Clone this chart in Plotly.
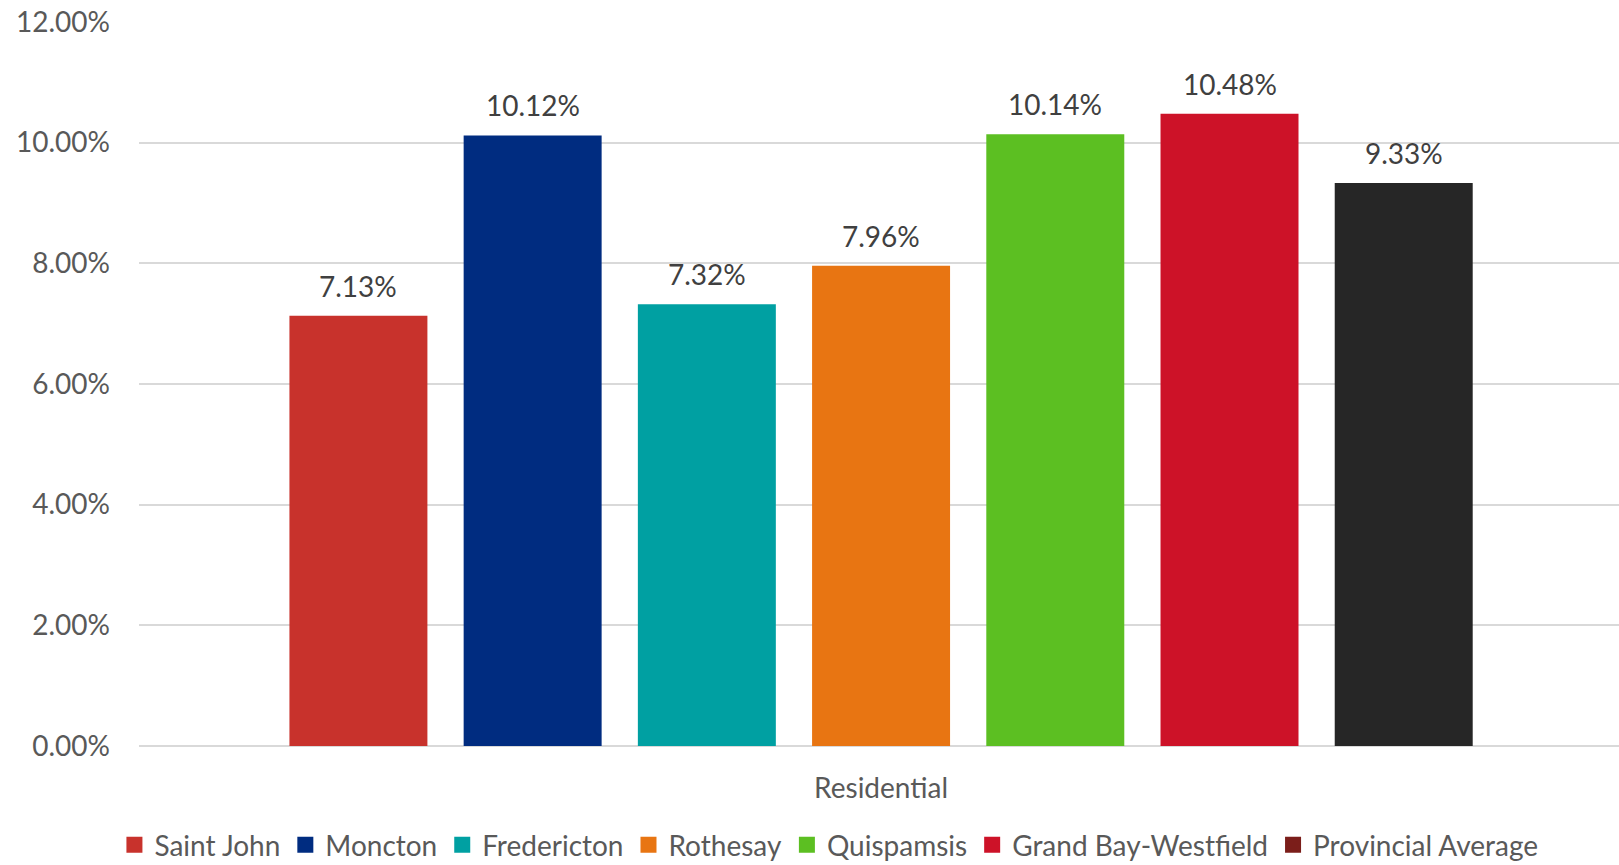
import plotly.graph_objects as go

# Residential rate by municipality
category = "Residential"
municipalities = [
    "Saint John",
    "Moncton",
    "Fredericton",
    "Rothesay",
    "Quispamsis",
    "Grand Bay-Westfield",
    "Provincial Average",
]
rates = [0.0713, 0.1012, 0.0732, 0.0796, 0.1014, 0.1048, 0.0933]
bar_colors = ["#C8322C", "#002C80", "#00A0A2", "#E87512", "#5CBF22", "#CD1228", "#262626"]
legend_colors = ["#C8322C", "#002C80", "#00A0A2", "#E87512", "#5CBF22", "#CD1228", "#7B1E1A"]

y_ticks = [0, 0.02, 0.04, 0.06, 0.08, 0.10, 0.12]

FONT = "Lato, 'Open Sans', sans-serif"
FONT_SIZE = 28
TICK_COLOR = "#595959"
LABEL_COLOR = "#404040"
GRID_COLOR = "#D9D9D9"

BARGAP = 0.176
BARGROUPGAP = 0.208

fig = go.Figure()

for name, value, bcol in zip(municipalities, rates, bar_colors):
    fig.add_trace(
        go.Bar(
            name=name,
            x=[category],
            y=[value],
            marker=dict(color=bcol, line=dict(width=0)),
            legendgroup=name,
            showlegend=False,
            hoverinfo="name+y",
        )
    )

# legend swatches: square keys in each series' legend colour
for name, lcol in zip(municipalities, legend_colors):
    fig.add_trace(
        go.Scatter(
            name=name,
            x=[None],
            y=[None],
            mode="markers",
            marker=dict(symbol="square", size=16, color=lcol),
            legendgroup=name,
            showlegend=True,
            hoverinfo="skip",
        )
    )

# value labels above each bar of the group
n = len(rates)
group_w = 1 - BARGAP
slot = group_w / n
for i, value in enumerate(rates):
    fig.add_annotation(
        x=-group_w / 2 + slot * (i + 0.5),
        y=value,
        xref="x",
        yref="y",
        text=f"{value:.2%}",
        showarrow=False,
        yanchor="bottom",
        yshift=11,
        font=dict(family=FONT, size=FONT_SIZE, color=LABEL_COLOR),
    )

fig.update_layout(
    width=1619,
    height=865,
    margin=dict(l=139, r=0, t=22, b=119),
    paper_bgcolor="white",
    plot_bgcolor="white",
    barmode="group",
    bargap=BARGAP,
    bargroupgap=BARGROUPGAP,
    font=dict(family=FONT, size=FONT_SIZE, color=TICK_COLOR),
    showlegend=True,
    legend=dict(
        orientation="h",
        xref="container",
        yref="container",
        x=0.512,
        xanchor="center",
        y=0.023,
        yanchor="middle",
        font=dict(family=FONT, size=FONT_SIZE, color=TICK_COLOR),
        bgcolor="rgba(0,0,0,0)",
        itemclick=False,
        itemdoubleclick=False,
        traceorder="normal",
    ),
    xaxis=dict(
        type="category",
        range=[-0.5014, 0.4986],
        showgrid=False,
        showline=False,
        zeroline=False,
        ticks="",
        ticklabelstandoff=23,
        tickfont=dict(family=FONT, size=FONT_SIZE, color=TICK_COLOR),
    ),
    yaxis=dict(
        range=[0, 0.12],
        tickvals=y_ticks,
        tickformat=".2%",
        showgrid=True,
        gridcolor=GRID_COLOR,
        gridwidth=1.5,
        zeroline=True,
        zerolinecolor=GRID_COLOR,
        zerolinewidth=1.5,
        showline=False,
        ticks="",
        ticklabelstandoff=28,
        tickfont=dict(family=FONT, size=FONT_SIZE, color=TICK_COLOR),
    ),
)

fig.write_html("out.html")
